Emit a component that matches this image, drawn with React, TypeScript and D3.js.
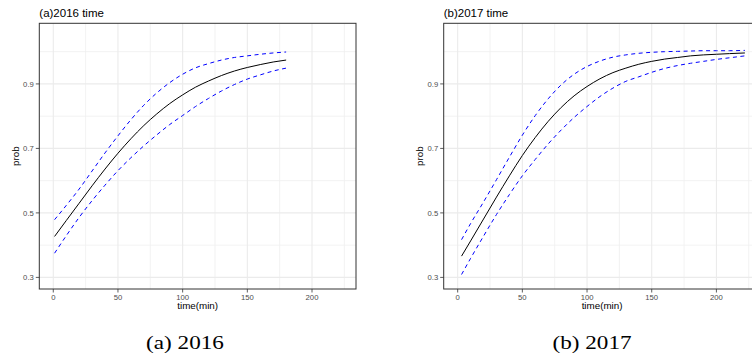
import { scaleLinear, line, curveMonotoneX } from "d3";

const width = 752;
const height = 358;

// panel (a) 2016
const timeA = [1, 10, 20, 30, 40, 50, 60, 70, 80, 90, 100, 110, 120, 130, 140, 150, 160, 170, 180];
const fitA = [0.427, 0.476, 0.53, 0.584, 0.636, 0.685, 0.73, 0.771, 0.807, 0.839, 0.866, 0.89, 0.909, 0.926, 0.94, 0.951, 0.96, 0.968, 0.974];
const upperA = [0.479, 0.523, 0.574, 0.63, 0.686, 0.739, 0.789, 0.834, 0.872, 0.904, 0.93, 0.95, 0.963, 0.974, 0.982, 0.987, 0.992, 0.996, 0.999];
const lowerA = [0.375, 0.429, 0.486, 0.538, 0.586, 0.631, 0.671, 0.708, 0.742, 0.774, 0.802, 0.83, 0.855, 0.878, 0.898, 0.915, 0.928, 0.94, 0.949];

// panel (b) 2017
const timeB = [3, 10, 20, 30, 40, 50, 60, 70, 80, 90, 100, 110, 120, 130, 140, 150, 160, 170, 180, 190, 200, 210, 222];
const fitB = [0.366, 0.413, 0.481, 0.549, 0.615, 0.678, 0.734, 0.784, 0.827, 0.863, 0.892, 0.916, 0.935, 0.949, 0.961, 0.97, 0.977, 0.982, 0.987, 0.99, 0.992, 0.994, 0.996];
const upperB = [0.417, 0.467, 0.534, 0.603, 0.673, 0.741, 0.802, 0.854, 0.897, 0.93, 0.954, 0.971, 0.983, 0.99, 0.995, 0.998, 1.0, 1.001, 1.002, 1.003, 1.003, 1.003, 1.004];
const lowerB = [0.309, 0.359, 0.428, 0.495, 0.557, 0.615, 0.666, 0.714, 0.757, 0.796, 0.83, 0.861, 0.887, 0.908, 0.922, 0.936, 0.948, 0.957, 0.964, 0.97, 0.976, 0.981, 0.987];

const xTicks = [0, 50, 100, 150, 200];
const xMinor = [25, 75, 125, 175, 225];
const yTicks = [0.3, 0.5, 0.7, 0.9];
const yMinor = [0.4, 0.6, 0.8, 1.0];

const sans = "'Liberation Sans', Arial, sans-serif";
const serif = "'Liberation Serif', 'Times New Roman', serif";

const top = 23.3;
const bottom = 289;
const panelW = 316.7;

const Panel = ({ left, title, caption, captionX, time, fit, upper, lower }) => {
  const x = scaleLinear().domain([-10.8, 234]).range([left, left + panelW]);
  const y = scaleLinear().domain([0.264, 1.088]).range([bottom, top]);
  const mk = (vals) =>
    line()
      .x((d, i) => x(time[i]))
      .y((d) => y(d))
      .curve(curveMonotoneX)(vals);

  return (
    <g>
      <rect x={left} y={top} width={panelW} height={bottom - top} fill="#fff" />
      {xMinor.map((t) => (
        <line key={"xm" + t} x1={x(t)} x2={x(t)} y1={top} y2={bottom} stroke="#efefef" strokeWidth={0.8} />
      ))}
      {yMinor.map((v) => (
        <line key={"ym" + v} x1={left} x2={left + panelW} y1={y(v)} y2={y(v)} stroke="#efefef" strokeWidth={0.8} />
      ))}
      {xTicks.map((t) => (
        <line key={"xg" + t} x1={x(t)} x2={x(t)} y1={top} y2={bottom} stroke="#ebebeb" strokeWidth={1.1} />
      ))}
      {yTicks.map((v) => (
        <line key={"yg" + v} x1={left} x2={left + panelW} y1={y(v)} y2={y(v)} stroke="#ebebeb" strokeWidth={1.1} />
      ))}

      <path d={mk(upper)} fill="none" stroke="#0000ff" strokeWidth={1} strokeDasharray="4,3.5" />
      <path d={mk(lower)} fill="none" stroke="#0000ff" strokeWidth={1} strokeDasharray="4,3.5" />
      <path d={mk(fit)} fill="none" stroke="#000" strokeWidth={1} />

      <rect x={left} y={top} width={panelW} height={bottom - top} fill="none" stroke="#333" strokeWidth={1} />

      {yTicks.map((v) => (
        <g key={"yt" + v}>
          <line x1={left - 3.5} x2={left} y1={y(v)} y2={y(v)} stroke="#333" strokeWidth={0.8} />
          <text x={left - 5.5} y={y(v)} dy="0.35em" textAnchor="end" fontFamily={sans} fontSize={7.7} fill="#4d4d4d">
            {v.toFixed(1)}
          </text>
        </g>
      ))}
      {xTicks.map((t) => (
        <g key={"xt" + t}>
          <line x1={x(t)} x2={x(t)} y1={bottom} y2={bottom + 3.5} stroke="#333" strokeWidth={0.8} />
          <text x={x(t)} y={299.5} textAnchor="middle" fontFamily={sans} fontSize={7.7} fill="#4d4d4d">
            {t}
          </text>
        </g>
      ))}

      <text x={left + panelW / 2} y={309} textAnchor="middle" fontFamily={sans} fontSize={9.8} fill="#000">
        time(min)
      </text>
      <text
        transform={`translate(${left - 20.5},${(top + bottom) / 2}) rotate(-90)`}
        textAnchor="middle"
        fontFamily={sans}
        fontSize={9.8}
        fill="#000"
      >
        prob
      </text>
      <text x={left} y={17} fontFamily={sans} fontSize={11.5} fill="#000">
        {title}
      </text>
      <text
        transform={`translate(${captionX},349) scale(1.22,1)`}
        textAnchor="middle"
        fontFamily={serif}
        fontSize={19}
        fill="#000"
      >
        {caption}
      </text>
    </g>
  );
};

export default function App() {
  return (
    <svg
      width={width}
      height={height}
      style={{ position: "absolute", left: 0, top: 0, background: "#fff" }}
    >
      <Panel
        left={39.3}
        title="(a)2016 time"
        caption="(a) 2016"
        captionX={185}
        time={timeA}
        fit={fitA}
        upper={upperA}
        lower={lowerA}
      />
      <Panel
        left={443.7}
        title="(b)2017 time"
        caption="(b) 2017"
        captionX={592}
        time={timeB}
        fit={fitB}
        upper={upperB}
        lower={lowerB}
      />
    </svg>
  );
}
